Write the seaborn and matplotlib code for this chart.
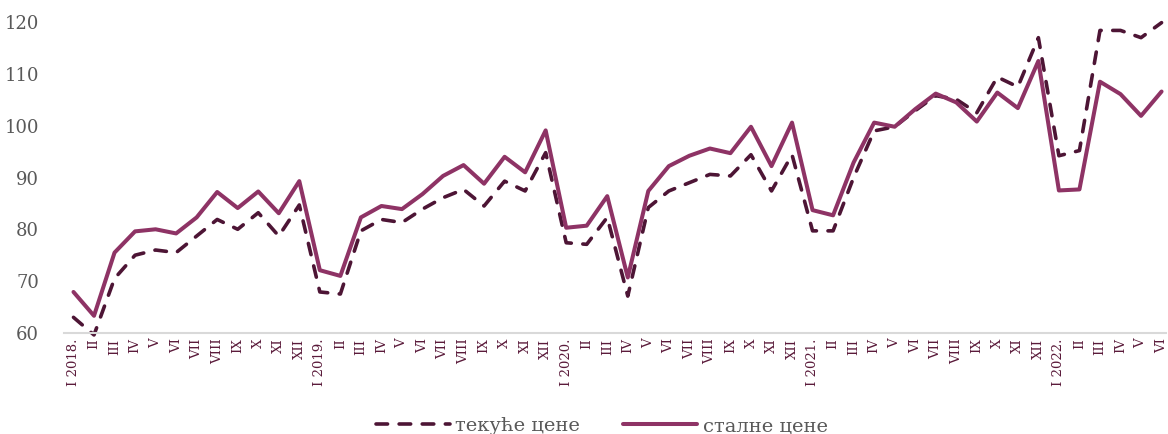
import seaborn as sns
import matplotlib.pyplot as plt
import pandas as pd
import numpy as np

# monthly index values, I 2018 - VI 2022
months = ["I", "II", "III", "IV", "V", "VI", "VII", "VIII", "IX", "X", "XI", "XII"]
years = ["2018", "2019", "2020", "2021", "2022"]

tekuce = [63.0, 59.6, 70.5, 75.0, 76.0, 75.5, 78.7, 81.9, 80.0, 83.2, 78.7, 84.7,
          67.9, 67.5, 79.7, 81.9, 81.3, 83.9, 86.1, 87.7, 84.5, 89.3, 87.4, 94.8,
          77.4, 77.1, 82.3, 67.1, 84.2, 87.4, 89.0, 90.6, 90.3, 94.4, 87.4, 94.4,
          79.7, 79.7, 90.0, 99.0, 99.8, 102.9, 105.8, 105.1, 102.5, 109.4, 107.5, 117.0,
          94.2, 95.2, 118.4, 118.4, 117.0, 119.9]
stalne = [67.9, 63.3, 75.5, 79.6, 80.0, 79.2, 82.3, 87.2, 84.1, 87.3, 83.1, 89.3,
          72.1, 71.0, 82.3, 84.5, 83.9, 86.8, 90.3, 92.4, 88.8, 94.0, 91.0, 99.1,
          80.3, 80.7, 86.4, 70.7, 87.4, 92.2, 94.2, 95.6, 94.7, 99.8, 92.2, 100.6,
          83.7, 82.7, 92.9, 100.6, 99.8, 103.2, 106.2, 104.5, 100.8, 106.4, 103.4, 112.5,
          87.5, 87.7, 108.5, 106.1, 101.9, 106.6]

labels = []
for y in years:
    for i, m in enumerate(months):
        labels.append(f"I {y}." if i == 0 else m)
labels = labels[:len(stalne)]

df = pd.DataFrame({"x": np.arange(len(stalne)), "tekuce": tekuce, "stalne": stalne})

sns.set_theme(style="white")
plt.rcParams["font.family"] = ["DejaVu Serif"]

c_dash = "#4d1535"
c_solid = "#8e3365"

fig = plt.figure(figsize=(11.68, 4.34), dpi=100)
ax = fig.add_axes([0.055, 0.233, 0.943, 0.716])

sns.lineplot(data=df, x="x", y="tekuce", ax=ax, color=c_dash, linewidth=2.6,
             label="текуће цене", clip_on=False, zorder=2)
ax.lines[-1].set_dashes([3.2, 3.2])
ax.lines[-1].set_dash_capstyle("round")
sns.lineplot(data=df, x="x", y="stalne", ax=ax, color=c_solid, linewidth=2.9,
             label="сталне цене", zorder=3)

ax.set_xlim(-0.45, 53.2)
ax.set_ylim(60, 120)
ax.set_yticks([60, 70, 80, 90, 100, 110, 120])
ax.set_xticks(df["x"])
ax.set_xticklabels(labels, rotation=90, fontsize=9.5, color="#5a1a3a")
ax.tick_params(axis="y", labelsize=13, labelcolor="#595959", length=0, pad=18)
ax.tick_params(axis="x", length=0, pad=4)
ax.set_xlabel("")
ax.set_ylabel("")
for s in ["top", "right", "left"]:
    ax.spines[s].set_visible(False)
ax.spines["bottom"].set_color("#d9d9d9")
ax.spines["bottom"].set_linewidth(1.5)
ax.grid(False)

leg = ax.legend(loc="center", bbox_to_anchor=(0.488, -0.30), ncol=2, frameon=False,
                fontsize=14, handlelength=3.8, columnspacing=2.2, handletextpad=0.3,
                borderpad=0.1)
for t in leg.get_texts():
    t.set_color("#595959")

fig.savefig("out.png", dpi=100)
